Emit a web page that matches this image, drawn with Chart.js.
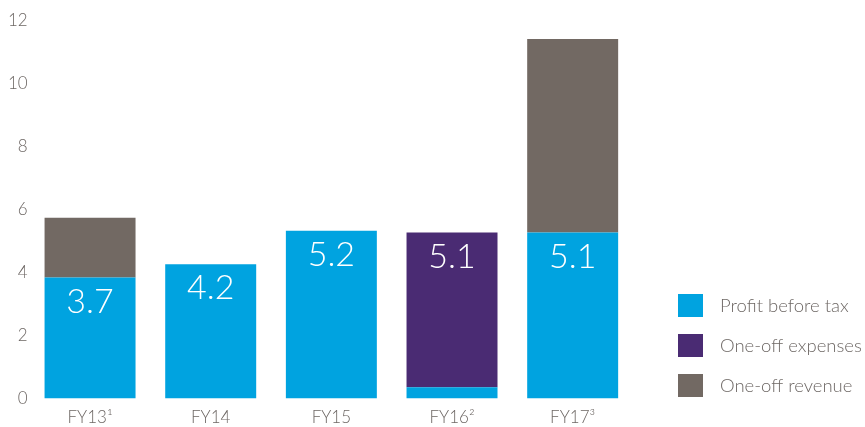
<!DOCTYPE html>
<html>
<head>
<meta charset="utf-8">
<script src="https://cdn.jsdelivr.net/npm/chart.js@4/dist/chart.umd.min.js"></script>
<style>
  html, body { margin: 0; padding: 0; background: #fff; }
  #wrap { width: 865px; height: 427px; position: relative; }
</style>
</head>
<body>
<div id="wrap"><canvas id="profitChart"></canvas></div>
<script>
const years = ['FY13\u00b9', 'FY14', 'FY15', 'FY16\u00b2', 'FY17\u00b3'];
const profitBeforeTax = [3.84, 4.26, 5.33, 0.36, 5.27];
const oneOffExpenses = [0, 0, 0, 4.91, 0];
const oneOffRevenue = [1.90, 0, 0, 0, 6.14];
const valueLabels = ['3.7', '4.2', '5.2', '5.1', '5.1'];
// which dataset carries the printed value for each year
const labelOnSeries = [0, 0, 0, 1, 0];
const yTicks = [0, 2, 4, 6, 8, 10, 12];

const textGrey = '#6d6764';
const fontFamily = 'Lato, "Open Sans", sans-serif';

const valueLabelPlugin = {
    id: 'valueLabels',
    afterDatasetsDraw(chart) {
        const ctx = chart.ctx;
        ctx.save();
        ctx.fillStyle = '#ffffff';
        ctx.font = '300 34px ' + fontFamily;
        ctx.textAlign = 'center';
        ctx.textBaseline = 'middle';
        valueLabels.forEach((txt, i) => {
            const bar = chart.getDatasetMeta(labelOnSeries[i]).data[i];
            ctx.fillText(txt, bar.x, bar.y + 24);
        });
        ctx.restore();
    }
};

const sideLegendPlugin = {
    id: 'sideLegend',
    afterDraw(chart) {
        const ctx = chart.ctx;
        const x = chart.chartArea.right + 45;
        let y = 294;
        ctx.save();
        ctx.font = '300 18.5px ' + fontFamily;
        ctx.textBaseline = 'middle';
        ctx.textAlign = 'left';
        chart.data.datasets.forEach(ds => {
            ctx.fillStyle = ds.backgroundColor;
            ctx.fillRect(x, y, 25, 23);
            ctx.fillStyle = textGrey;
            ctx.fillText(ds.label, x + 42, y + 12);
            y += 40;
        });
        ctx.restore();
    }
};

const ctx = document.getElementById('profitChart').getContext('2d');

new Chart(ctx, {
    type: 'bar',
    data: {
        labels: years,
        datasets: [
            { label: 'Profit before tax', data: profitBeforeTax, backgroundColor: '#00a3e0' },
            { label: 'One-off expenses', data: oneOffExpenses, backgroundColor: '#4a2b73' },
            { label: 'One-off revenue', data: oneOffRevenue, backgroundColor: '#726963' }
        ]
    },
    options: {
        responsive: true,
        maintainAspectRatio: false,
        animation: false,
        layout: { padding: { top: 20.5, left: 6, right: 232, bottom: -10 } },
        plugins: {
            legend: { display: false },
            tooltip: { enabled: false }
        },
        datasets: {
            bar: { categoryPercentage: 0.754, barPercentage: 1, borderWidth: 0 }
        },
        scales: {
            x: {
                stacked: true,
                grid: { display: false, drawTicks: false },
                border: { display: false },
                ticks: { color: textGrey, padding: 9, font: { family: fontFamily, size: 17, weight: '300' } }
            },
            y: {
                stacked: true,
                min: 0,
                max: 12,
                afterBuildTicks: axis => { axis.ticks = yTicks.map(v => ({ value: v })); },
                grid: { display: false, drawTicks: false },
                border: { display: false },
                ticks: { color: textGrey, padding: 2, font: { family: fontFamily, size: 17, weight: '300' } }
            }
        }
    },
    plugins: [valueLabelPlugin, sideLegendPlugin]
});
</script>
</body>
</html>
